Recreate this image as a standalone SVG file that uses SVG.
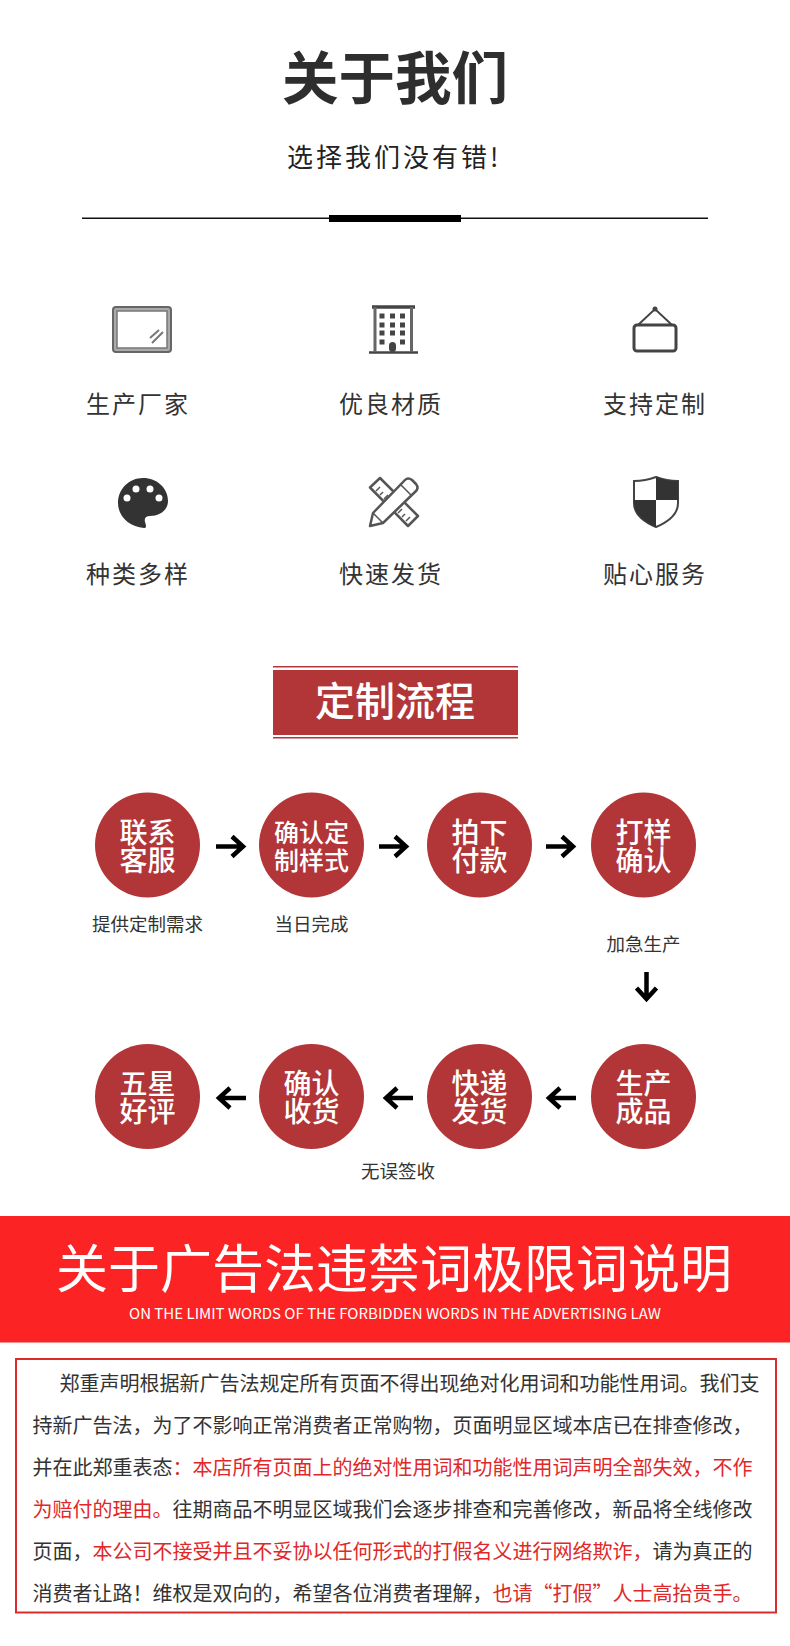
<svg xmlns="http://www.w3.org/2000/svg" width="790" height="1646" viewBox="0 0 790 1646">
<style>
text{font-family:"Noto Sans CJK SC","Liberation Sans",sans-serif;text-anchor:middle}
.lab{font-size:24px;fill:#333;letter-spacing:2px}
.cap{font-size:18.5px;fill:#333}
.c{fill:#b23537}
.ct{fill:#fff;font-size:28px;font-weight:500}
.cs{fill:#fff;font-size:25px;font-weight:500}
.p{font-size:20px;fill:#333;text-anchor:start}
.r{fill:#e0282a}
.ar{fill:none;stroke:#000;stroke-width:4.500}
.ic{fill:#fff;stroke:#555;stroke-width:2.500;stroke-linejoin:round}
.tk{fill:none;stroke:#555;stroke-width:1.500}
</style>
<rect width="790" height="1646" fill="#fff"/>
<g id="header">
<text x="395" y="99" font-size="56.500" font-weight="700" fill="#2e2e2e">关于我们</text>
<text x="287" y="167" font-size="26" fill="#222" letter-spacing="3" style="text-anchor:start">选择我们没有错!</text>
<rect x="82" y="217.500" width="626" height="1.500" fill="#111"/>
<rect x="329" y="215" width="132" height="7" fill="#000"/>
</g>
<g id="feature-factory">
<rect x="113" y="307" width="58" height="45" rx="3" fill="#aaa" stroke="#666" stroke-width="2"/>
<rect x="117" y="311" width="50" height="37" fill="#fff" stroke="#777" stroke-width="1.500"/>
<path d="M150 338l9-8M152 343l11-11" stroke="#777" stroke-width="2" fill="none"/>
<text class="lab" x="138" y="413">生产厂家</text>
</g>
<g id="feature-material">
<path d="M369 352.500h49" stroke="#444" stroke-width="2.500"/>
<path d="M372 307h43" stroke="#444" stroke-width="3.500" fill="none"/>
<path d="M375 307v45M411.500 307v45" stroke="#666" stroke-width="3" fill="none"/>
<g fill="#444"><rect x="379.500" y="313.500" width="5" height="5"/><rect x="390" y="313.500" width="5" height="5"/><rect x="400" y="313.500" width="5" height="5"/><rect x="379.500" y="322.500" width="5" height="5"/><rect x="390" y="322.500" width="5" height="5"/><rect x="400" y="322.500" width="5" height="5"/><rect x="379.500" y="330.500" width="5" height="5"/><rect x="390" y="330.500" width="5" height="5"/><rect x="400" y="330.500" width="5" height="5"/><rect x="379.500" y="339.500" width="5" height="5"/><rect x="400" y="339.500" width="5" height="5"/><rect x="389" y="342" width="7" height="10" rx="3.500"/></g>
<text class="lab" x="391" y="413">优良材质</text>
</g>
<g id="feature-custom">
<rect x="634" y="325" width="42" height="26" rx="3" fill="none" stroke="#444" stroke-width="3"/>
<path d="M638 325l17-16 17 16" fill="none" stroke="#444" stroke-width="2"/>
<circle cx="655" cy="309" r="2.500" fill="#444"/>
<text class="lab" x="655" y="413">支持定制</text>
</g>
<g id="feature-variety">
<path d="M143 478C129 478 118 489 118 503C118 517 130 527 144 528C147 528 146 525 145 522C144 518 146 516 150 516C160 516 168 510 168 501C168 488 157 478 143 478Z" fill="#333"/>
<g fill="#fff"><circle cx="127" cy="498" r="3.500"/><circle cx="136" cy="489" r="3.500"/><circle cx="150" cy="489" r="3.500"/><circle cx="159" cy="498" r="3.500"/></g>
<text class="lab" x="138" y="583">种类多样</text>
</g>
<g id="feature-delivery">
<path class="ic" d="M370 487.500L380 478 418 516 408 526z"/>
<path class="tk" d="M376 491l4-4M380 495l3-3M384 499l4-4M398 513l4-4M402 517l3-3M406 521l4-4"/>
<path class="ic" d="M373 513L405 480Q408 477 412 480L416 484Q419 488 416 491L383 523L370 526z"/>
<path class="tk" d="M373 513L383 523M400 484L412 496"/>
<text class="lab" x="391" y="583">快速发货</text>
</g>
<g id="feature-service">
<path d="M656 477c8 3 15 4 22 4v22c0 11-10 19-22 24-12-5-22-13-22-24v-22c7 0 14-1 22-4z" fill="#fff" stroke="#444" stroke-width="2"/>
<path d="M656 477c8 3 15 4 22 4v19h-22zM656 500v27c-12-5-22-13-22-24v-3z" fill="#333"/>
<text class="lab" x="655" y="583">贴心服务</text>
</g>
<g id="process-title">
<rect x="273" y="666" width="245" height="1.500" fill="#b23537"/>
<rect x="273" y="670" width="245" height="65" fill="#b23537"/>
<rect x="273" y="737" width="245" height="1.500" fill="#b23537"/>
<text x="395" y="716" font-size="40" font-weight="500" fill="#fff">定制流程</text>
</g>
<g id="connectors">
<defs><path id="a" d="M-14 0H12M2-10L13 0 2 10" class="ar"/></defs>
<use href="#a" x="230" y="846.500"/>
<use href="#a" x="393" y="846.500"/>
<use href="#a" x="560" y="846.500"/>
<use href="#a" transform="translate(646.500 986) rotate(90)"/>
<use href="#a" transform="translate(562 1098) rotate(180)"/>
<use href="#a" transform="translate(399 1098) rotate(180)"/>
<use href="#a" transform="translate(232 1098) rotate(180)"/>
</g>
<g id="step-contact"><circle class="c" cx="147.500" cy="845" r="52.500"/><text class="ct"><tspan x="147.500" y="843">联系</tspan><tspan x="147.500" y="871">客服</tspan></text></g>
<g id="step-confirm-style"><circle class="c" cx="311.500" cy="845" r="52.500"/><text class="cs"><tspan x="311.500" y="842">确认定</tspan><tspan x="311.500" y="870">制样式</tspan></text></g>
<g id="step-pay"><circle class="c" cx="479.500" cy="845" r="52.500"/><text class="ct"><tspan x="479.500" y="843">拍下</tspan><tspan x="479.500" y="871">付款</tspan></text></g>
<g id="step-sample"><circle class="c" cx="643.500" cy="845" r="52.500"/><text class="ct"><tspan x="643.500" y="843">打样</tspan><tspan x="643.500" y="871">确认</tspan></text></g>
<g id="step-produce"><circle class="c" cx="643.500" cy="1096.500" r="52.500"/><text class="ct"><tspan x="643.500" y="1094">生产</tspan><tspan x="643.500" y="1122">成品</tspan></text></g>
<g id="step-ship"><circle class="c" cx="479.500" cy="1096.500" r="52.500"/><text class="ct"><tspan x="479.500" y="1094">快递</tspan><tspan x="479.500" y="1122">发货</tspan></text></g>
<g id="step-receive"><circle class="c" cx="311.500" cy="1096.500" r="52.500"/><text class="ct"><tspan x="311.500" y="1094">确认</tspan><tspan x="311.500" y="1122">收货</tspan></text></g>
<g id="step-review"><circle class="c" cx="147.500" cy="1096.500" r="52.500"/><text class="ct"><tspan x="147.500" y="1094">五星</tspan><tspan x="147.500" y="1122">好评</tspan></text></g>
<g id="captions">
<text class="cap" x="147.500" y="931">提供定制需求</text>
<text class="cap" x="311.500" y="931">当日完成</text>
<text class="cap" x="643.500" y="951">加急生产</text>
<text class="cap" x="398" y="1178">无误签收</text>
</g>
<g id="notice-banner">
<rect x="0" y="1216" width="790" height="126.500" fill="#fb2323"/>
<text x="394" y="1288" font-size="52" fill="#fff">关于广告法违禁词极限词说明</text>
<text x="395" y="1319" font-size="14.500" fill="#fff" font-family="Liberation Sans" textLength="532" lengthAdjust="spacingAndGlyphs">ON THE LIMIT WORDS OF THE FORBIDDEN WORDS IN THE ADVERTISING LAW</text>
</g>
<g id="notice-body">
<rect x="16" y="1359" width="760" height="253.500" fill="none" stroke="#dc2b2d" stroke-width="2"/>
<text class="p" x="59.500" y="1391">郑重声明根据新广告法规定所有页面不得出现绝对化用词和功能性用词。我们支</text>
<text class="p" x="32.500" y="1433">持新广告法，为了不影响正常消费者正常购物，页面明显区域本店已在排查修改，</text>
<text class="p" x="32.500" y="1475">并在此郑重表态<tspan class="r">：本店所有页面上的绝对性用词和功能性用词声明全部失效，不作</tspan></text>
<text class="p" x="32.500" y="1517"><tspan class="r">为赔付的理由。</tspan>往期商品不明显区域我们会逐步排查和完善修改，新品将全线修改</text>
<text class="p" x="32.500" y="1559">页面，<tspan class="r">本公司不接受并且不妥协以任何形式的打假名义进行网络欺诈，</tspan>请为真正的</text>
<text class="p" x="32.500" y="1601">消费者让路！维权是双向的，希望各位消费者理解，<tspan class="r">也请“打假”人士高抬贵手。</tspan></text>
</g>
</svg>
